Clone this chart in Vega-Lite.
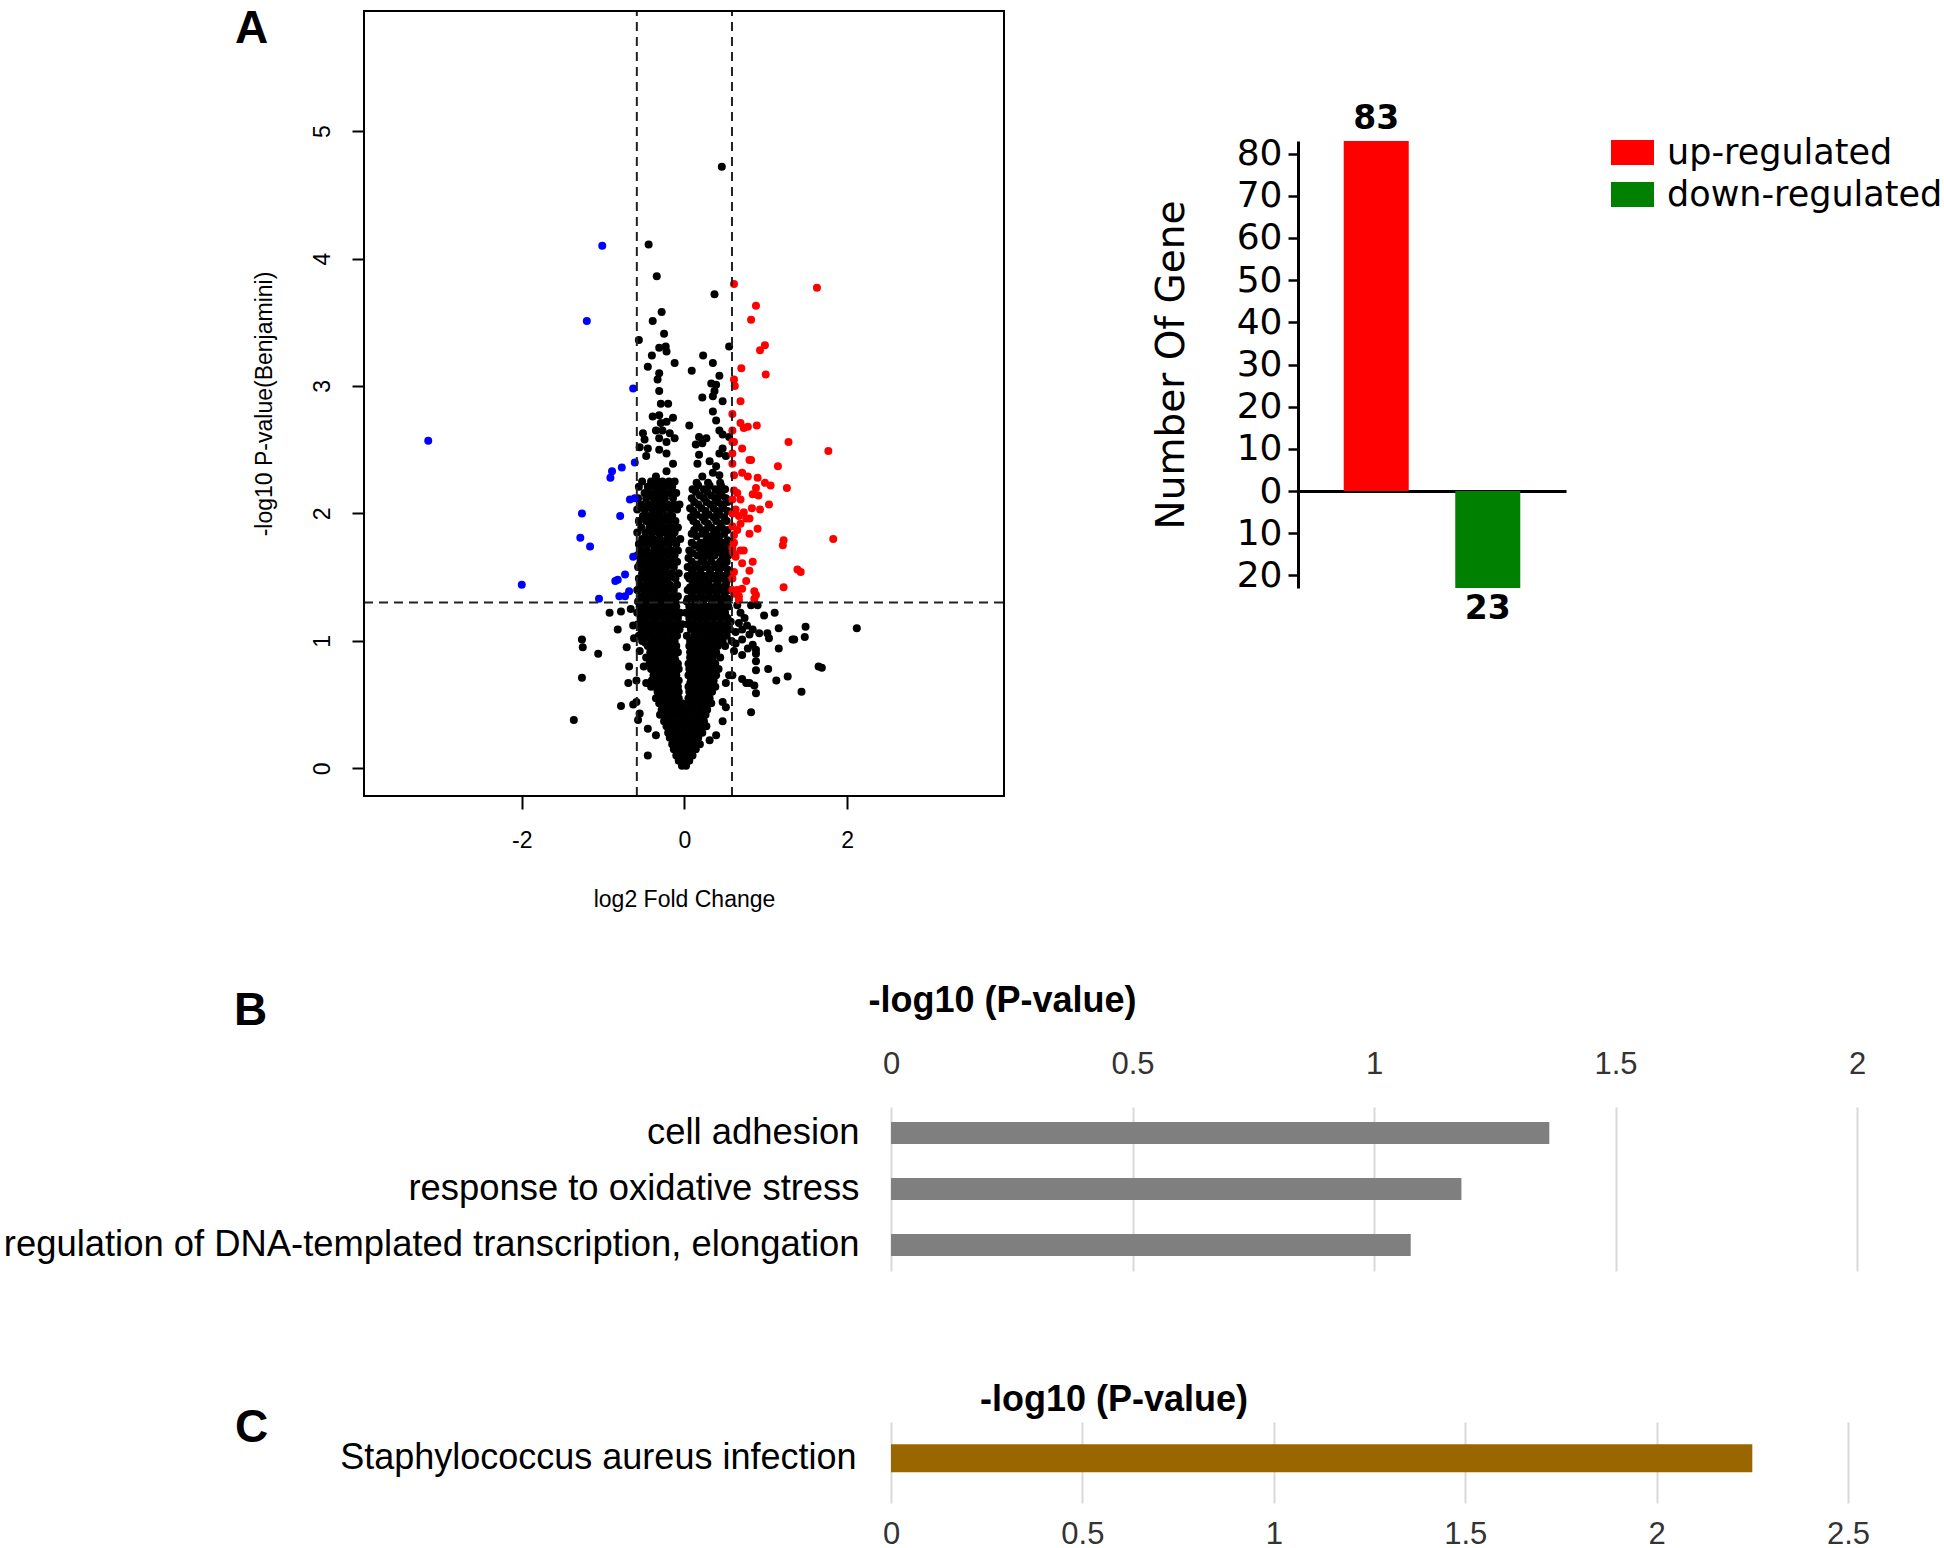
{
"$schema":"https://vega.github.io/schema/vega-lite/v6.json",
"background":"white",
"padding":{"left":3,"top":6,"right":0,"bottom":0},
"spacing":0,
"bounds":"flush",
"config":{"view":{"stroke":null},"font":"Liberation Sans","axis":{"labelFont":"Liberation Sans","titleFont":"Liberation Sans"}},
"datasets":{
"ns":[
{"fc":0.46,"lp":4.72},{"fc":-0.44,"lp":4.11},{"fc":-0.34,"lp":3.86},{"fc":0.37,"lp":3.72},{"fc":-0.28,"lp":3.58},{"fc":-0.39,"lp":3.51},{"fc":-0.25,"lp":3.41},{"fc":-0.56,"lp":3.36},{"fc":0.55,"lp":3.31},{"fc":-0.31,"lp":3.30},{"fc":-0.23,"lp":3.31},{"fc":-0.22,"lp":3.27},{"fc":-0.40,"lp":3.24},{"fc":0.23,"lp":3.24},{"fc":-0.12,"lp":3.18},{"fc":0.35,"lp":3.18},{"fc":-0.45,"lp":3.15},{"fc":-0.31,"lp":3.10},{"fc":0.09,"lp":3.12},{"fc":0.43,"lp":3.08},{"fc":-0.33,"lp":3.05},{"fc":0.33,"lp":3.02},{"fc":0.39,"lp":3.01},{"fc":-0.31,"lp":2.96},{"fc":0.37,"lp":2.96},{"fc":0.35,"lp":2.92},{"fc":0.47,"lp":2.88},{"fc":0.22,"lp":2.91},{"fc":-0.29,"lp":2.86},{"fc":-0.20,"lp":2.86},{"fc":0.35,"lp":2.80},{"fc":-0.39,"lp":2.76},{"fc":-0.31,"lp":2.77},{"fc":-0.14,"lp":2.75},{"fc":0.39,"lp":2.73},{"fc":-0.29,"lp":2.71},{"fc":-0.22,"lp":2.72},{"fc":0.06,"lp":2.69},{"fc":-0.35,"lp":2.65},{"fc":-0.27,"lp":2.65},{"fc":-0.18,"lp":2.63},{"fc":0.43,"lp":2.65},{"fc":0.47,"lp":2.62},{"fc":-0.51,"lp":2.63},{"fc":-0.49,"lp":2.58},{"fc":0.18,"lp":2.60},{"fc":0.27,"lp":2.59},{"fc":-0.31,"lp":2.59},{"fc":-0.22,"lp":2.56},{"fc":-0.12,"lp":2.59},{"fc":0.55,"lp":2.60},{"fc":-0.55,"lp":2.52},{"fc":-0.45,"lp":2.51},{"fc":0.14,"lp":2.54},{"fc":0.22,"lp":2.55},{"fc":-0.31,"lp":2.50},{"fc":-0.22,"lp":2.47},{"fc":0.47,"lp":2.51},{"fc":0.43,"lp":2.47},{"fc":0.51,"lp":2.45},{"fc":-0.47,"lp":2.45},{"fc":0.18,"lp":2.46},{"fc":0.16,"lp":2.39},{"fc":-0.14,"lp":2.39},{"fc":0.31,"lp":2.41},{"fc":0.39,"lp":2.37},{"fc":0.35,"lp":2.32},{"fc":0.43,"lp":2.30},{"fc":-0.35,"lp":2.29},{"fc":-0.22,"lp":2.33},{"fc":0.22,"lp":2.29},
{"fc":-0.52,"lp":2.25},{"fc":-0.41,"lp":2.25},{"fc":-0.33,"lp":2.25},{"fc":-0.27,"lp":2.25},{"fc":-0.19,"lp":2.25},{"fc":-0.12,"lp":2.25},
{"fc":-0.56,"lp":2.21},{"fc":-0.45,"lp":2.21},{"fc":-0.37,"lp":2.21},{"fc":-0.30,"lp":2.21},{"fc":-0.23,"lp":2.21},{"fc":-0.15,"lp":2.21},
{"fc":-0.49,"lp":2.16},{"fc":-0.42,"lp":2.16},{"fc":-0.34,"lp":2.16},{"fc":-0.26,"lp":2.16},{"fc":-0.18,"lp":2.16},{"fc":-0.10,"lp":2.16},
{"fc":-0.57,"lp":2.12},{"fc":-0.47,"lp":2.12},{"fc":-0.38,"lp":2.12},{"fc":-0.31,"lp":2.12},{"fc":-0.24,"lp":2.12},{"fc":-0.14,"lp":2.12},
{"fc":-0.53,"lp":2.07},{"fc":-0.44,"lp":2.07},{"fc":-0.36,"lp":2.07},{"fc":-0.29,"lp":2.07},{"fc":-0.21,"lp":2.07},{"fc":-0.13,"lp":2.07},{"fc":-0.06,"lp":2.07},
{"fc":-0.58,"lp":2.03},{"fc":-0.49,"lp":2.03},{"fc":-0.40,"lp":2.03},{"fc":-0.33,"lp":2.03},{"fc":-0.26,"lp":2.03},{"fc":-0.17,"lp":2.03},{"fc":-0.09,"lp":2.03},
{"fc":-0.51,"lp":1.98},{"fc":-0.45,"lp":1.98},{"fc":-0.37,"lp":1.98},{"fc":-0.30,"lp":1.98},{"fc":-0.22,"lp":1.98},{"fc":-0.15,"lp":1.98},
{"fc":-0.56,"lp":1.94},{"fc":-0.47,"lp":1.94},{"fc":-0.41,"lp":1.94},{"fc":-0.34,"lp":1.94},{"fc":-0.27,"lp":1.94},{"fc":-0.19,"lp":1.94},{"fc":-0.11,"lp":1.94},
{"fc":-0.53,"lp":1.89},{"fc":-0.43,"lp":1.89},{"fc":-0.36,"lp":1.89},{"fc":-0.29,"lp":1.89},{"fc":-0.23,"lp":1.89},{"fc":-0.16,"lp":1.89},{"fc":-0.08,"lp":1.89},
{"fc":-0.58,"lp":1.85},{"fc":-0.48,"lp":1.85},{"fc":-0.40,"lp":1.85},{"fc":-0.32,"lp":1.85},{"fc":-0.25,"lp":1.85},{"fc":-0.18,"lp":1.85},{"fc":-0.12,"lp":1.85},
{"fc":-0.52,"lp":1.80},{"fc":-0.45,"lp":1.80},{"fc":-0.38,"lp":1.80},{"fc":-0.30,"lp":1.80},{"fc":-0.21,"lp":1.80},{"fc":-0.14,"lp":1.80},{"fc":-0.05,"lp":1.80},
{"fc":-0.56,"lp":1.76},{"fc":-0.48,"lp":1.76},{"fc":-0.41,"lp":1.76},{"fc":-0.34,"lp":1.76},{"fc":-0.27,"lp":1.76},{"fc":-0.19,"lp":1.76},{"fc":-0.10,"lp":1.76},
{"fc":-0.53,"lp":1.71},{"fc":-0.46,"lp":1.71},{"fc":-0.37,"lp":1.71},{"fc":-0.31,"lp":1.71},{"fc":-0.24,"lp":1.71},{"fc":-0.16,"lp":1.71},{"fc":-0.08,"lp":1.71},
{"fc":-0.58,"lp":1.67},{"fc":-0.50,"lp":1.67},{"fc":-0.42,"lp":1.67},{"fc":-0.35,"lp":1.67},{"fc":-0.28,"lp":1.67},{"fc":-0.20,"lp":1.67},{"fc":-0.12,"lp":1.67},
{"fc":-0.54,"lp":1.62},{"fc":-0.46,"lp":1.62},{"fc":-0.39,"lp":1.62},{"fc":-0.32,"lp":1.62},{"fc":-0.25,"lp":1.62},{"fc":-0.17,"lp":1.62},{"fc":-0.09,"lp":1.62},
{"fc":-0.57,"lp":1.58},{"fc":-0.49,"lp":1.58},{"fc":-0.43,"lp":1.58},{"fc":-0.36,"lp":1.58},{"fc":-0.29,"lp":1.58},{"fc":-0.22,"lp":1.58},{"fc":-0.13,"lp":1.58},
{"fc":-0.52,"lp":1.53},{"fc":-0.45,"lp":1.53},{"fc":-0.38,"lp":1.53},{"fc":-0.31,"lp":1.53},{"fc":-0.24,"lp":1.53},{"fc":-0.16,"lp":1.53},{"fc":-0.07,"lp":1.53},
{"fc":-0.56,"lp":1.49},{"fc":-0.48,"lp":1.49},{"fc":-0.41,"lp":1.49},{"fc":-0.34,"lp":1.49},{"fc":-0.27,"lp":1.49},{"fc":-0.20,"lp":1.49},{"fc":-0.11,"lp":1.49},
{"fc":-0.54,"lp":1.44},{"fc":-0.46,"lp":1.44},{"fc":-0.39,"lp":1.44},{"fc":-0.32,"lp":1.44},{"fc":-0.25,"lp":1.44},{"fc":-0.18,"lp":1.44},{"fc":-0.09,"lp":1.44},
{"fc":-0.58,"lp":1.40},{"fc":-0.50,"lp":1.40},{"fc":-0.43,"lp":1.40},{"fc":-0.36,"lp":1.40},{"fc":-0.29,"lp":1.40},{"fc":-0.21,"lp":1.40},{"fc":-0.13,"lp":1.40},
{"fc":-0.53,"lp":1.35},{"fc":-0.46,"lp":1.35},{"fc":-0.38,"lp":1.35},{"fc":-0.31,"lp":1.35},{"fc":-0.24,"lp":1.35},{"fc":-0.16,"lp":1.35},{"fc":-0.08,"lp":1.35},
{"fc":-0.57,"lp":1.31},{"fc":-0.49,"lp":1.31},{"fc":-0.42,"lp":1.31},{"fc":-0.35,"lp":1.31},{"fc":-0.27,"lp":1.31},{"fc":-0.19,"lp":1.31},{"fc":-0.11,"lp":1.31},
{"fc":0.15,"lp":2.24},{"fc":0.29,"lp":2.24},{"fc":0.44,"lp":2.24},
{"fc":0.10,"lp":2.19},{"fc":0.24,"lp":2.19},{"fc":0.38,"lp":2.19},{"fc":0.50,"lp":2.19},
{"fc":0.19,"lp":2.14},{"fc":0.33,"lp":2.14},{"fc":0.46,"lp":2.14},
{"fc":0.12,"lp":2.09},{"fc":0.27,"lp":2.09},{"fc":0.41,"lp":2.09},{"fc":0.53,"lp":2.09},
{"fc":0.07,"lp":2.04},{"fc":0.21,"lp":2.04},{"fc":0.36,"lp":2.04},{"fc":0.48,"lp":2.04},
{"fc":0.15,"lp":1.99},{"fc":0.30,"lp":1.99},{"fc":0.43,"lp":1.99},
{"fc":0.11,"lp":1.94},{"fc":0.25,"lp":1.94},{"fc":0.39,"lp":1.94},{"fc":0.52,"lp":1.94},
{"fc":0.18,"lp":1.89},{"fc":0.33,"lp":1.89},{"fc":0.46,"lp":1.89},
{"fc":0.09,"lp":1.84},{"fc":0.22,"lp":1.84},{"fc":0.36,"lp":1.84},{"fc":0.49,"lp":1.84},
{"fc":0.27,"lp":1.79},{"fc":0.34,"lp":1.79},{"fc":0.41,"lp":1.79},{"fc":0.53,"lp":1.79},
{"fc":0.13,"lp":1.75},{"fc":0.24,"lp":1.75},{"fc":0.31,"lp":1.75},{"fc":0.38,"lp":1.75},{"fc":0.45,"lp":1.75},
{"fc":0.06,"lp":1.71},{"fc":0.27,"lp":1.71},{"fc":0.34,"lp":1.71},{"fc":0.41,"lp":1.71},{"fc":0.50,"lp":1.71},
{"fc":0.16,"lp":1.67},{"fc":0.29,"lp":1.67},{"fc":0.37,"lp":1.67},{"fc":0.54,"lp":1.67},
{"fc":0.09,"lp":1.62},{"fc":0.21,"lp":1.62},{"fc":0.33,"lp":1.62},{"fc":0.44,"lp":1.62},{"fc":0.52,"lp":1.62},
{"fc":0.04,"lp":1.58},{"fc":0.14,"lp":1.58},{"fc":0.26,"lp":1.58},{"fc":0.38,"lp":1.58},{"fc":0.48,"lp":1.58},
{"fc":0.10,"lp":1.53},{"fc":0.19,"lp":1.53},{"fc":0.31,"lp":1.53},{"fc":0.42,"lp":1.53},{"fc":0.54,"lp":1.53},
{"fc":0.06,"lp":1.49},{"fc":0.16,"lp":1.49},{"fc":0.24,"lp":1.49},{"fc":0.36,"lp":1.49},{"fc":0.47,"lp":1.49},
{"fc":0.12,"lp":1.44},{"fc":0.21,"lp":1.44},{"fc":0.29,"lp":1.44},{"fc":0.40,"lp":1.44},{"fc":0.51,"lp":1.44},
{"fc":0.04,"lp":1.40},{"fc":0.15,"lp":1.40},{"fc":0.26,"lp":1.40},{"fc":0.35,"lp":1.40},{"fc":0.45,"lp":1.40},{"fc":0.55,"lp":1.40},
{"fc":0.09,"lp":1.35},{"fc":0.19,"lp":1.35},{"fc":0.30,"lp":1.35},{"fc":0.39,"lp":1.35},{"fc":0.49,"lp":1.35},
{"fc":0.03,"lp":1.31},{"fc":0.13,"lp":1.31},{"fc":0.23,"lp":1.31},{"fc":0.34,"lp":1.31},{"fc":0.44,"lp":1.31},{"fc":0.53,"lp":1.31},
{"fc":0.17,"lp":2.22},{"fc":0.31,"lp":2.22},{"fc":0.45,"lp":2.22},
{"fc":0.14,"lp":2.17},{"fc":0.28,"lp":2.17},{"fc":0.42,"lp":2.17},
{"fc":0.09,"lp":2.12},{"fc":0.24,"lp":2.12},{"fc":0.38,"lp":2.12},{"fc":0.51,"lp":2.12},
{"fc":0.17,"lp":2.07},{"fc":0.32,"lp":2.07},{"fc":0.46,"lp":2.07},
{"fc":0.11,"lp":2.02},{"fc":0.26,"lp":2.02},{"fc":0.40,"lp":2.02},{"fc":0.53,"lp":2.02},
{"fc":0.08,"lp":1.97},{"fc":0.22,"lp":1.97},{"fc":0.36,"lp":1.97},{"fc":0.49,"lp":1.97},
{"fc":0.15,"lp":1.92},{"fc":0.29,"lp":1.92},{"fc":0.44,"lp":1.92},
{"fc":0.12,"lp":1.87},{"fc":0.26,"lp":1.87},{"fc":0.40,"lp":1.87},{"fc":0.53,"lp":1.87},
{"fc":0.15,"lp":1.82},{"fc":0.29,"lp":1.82},{"fc":0.43,"lp":1.82},
{"fc":0.09,"lp":1.77},{"fc":0.20,"lp":1.77},{"fc":0.47,"lp":1.77},
{"fc":0.18,"lp":1.73},{"fc":0.54,"lp":1.73},
{"fc":0.10,"lp":1.69},{"fc":0.21,"lp":1.69},{"fc":0.45,"lp":1.69},
{"fc":0.05,"lp":1.65},{"fc":0.24,"lp":1.65},{"fc":0.47,"lp":1.65},
{"fc":0.15,"lp":1.60},{"fc":0.27,"lp":1.60},{"fc":0.39,"lp":1.60},{"fc":0.49,"lp":1.60},
{"fc":0.09,"lp":1.56},{"fc":0.20,"lp":1.56},{"fc":0.32,"lp":1.56},{"fc":0.43,"lp":1.56},{"fc":0.53,"lp":1.56},
{"fc":0.04,"lp":1.51},{"fc":0.14,"lp":1.51},{"fc":0.25,"lp":1.51},{"fc":0.37,"lp":1.51},{"fc":0.48,"lp":1.51},
{"fc":0.10,"lp":1.47},{"fc":0.20,"lp":1.47},{"fc":0.30,"lp":1.47},{"fc":0.41,"lp":1.47},{"fc":0.52,"lp":1.47},
{"fc":0.07,"lp":1.42},{"fc":0.16,"lp":1.42},{"fc":0.25,"lp":1.42},{"fc":0.34,"lp":1.42},{"fc":0.46,"lp":1.42},
{"fc":0.10,"lp":1.38},{"fc":0.21,"lp":1.38},{"fc":0.30,"lp":1.38},{"fc":0.40,"lp":1.38},{"fc":0.50,"lp":1.38},
{"fc":0.04,"lp":1.33},{"fc":0.14,"lp":1.33},{"fc":0.25,"lp":1.33},{"fc":0.35,"lp":1.33},{"fc":0.44,"lp":1.33},{"fc":0.54,"lp":1.33},
{"fc":-0.55,"lp":1.27},{"fc":-0.47,"lp":1.27},{"fc":-0.40,"lp":1.27},{"fc":-0.33,"lp":1.27},{"fc":-0.25,"lp":1.27},{"fc":-0.18,"lp":1.27},{"fc":-0.10,"lp":1.27},{"fc":0.06,"lp":1.27},{"fc":0.14,"lp":1.27},{"fc":0.22,"lp":1.27},{"fc":0.30,"lp":1.27},{"fc":0.38,"lp":1.27},{"fc":0.46,"lp":1.27},{"fc":0.54,"lp":1.27},
{"fc":-0.58,"lp":1.22},{"fc":-0.51,"lp":1.22},{"fc":-0.43,"lp":1.22},{"fc":-0.36,"lp":1.22},{"fc":-0.29,"lp":1.22},{"fc":-0.21,"lp":1.22},{"fc":-0.13,"lp":1.22},{"fc":-0.05,"lp":1.22},{"fc":0.02,"lp":1.22},{"fc":0.10,"lp":1.22},{"fc":0.18,"lp":1.22},{"fc":0.26,"lp":1.22},{"fc":0.34,"lp":1.22},{"fc":0.42,"lp":1.22},{"fc":0.50,"lp":1.22},
{"fc":-0.54,"lp":1.18},{"fc":-0.47,"lp":1.18},{"fc":-0.39,"lp":1.18},{"fc":-0.32,"lp":1.18},{"fc":-0.24,"lp":1.18},{"fc":-0.16,"lp":1.18},{"fc":-0.08,"lp":1.18},{"fc":0.06,"lp":1.18},{"fc":0.14,"lp":1.18},{"fc":0.22,"lp":1.18},{"fc":0.29,"lp":1.18},{"fc":0.37,"lp":1.18},{"fc":0.45,"lp":1.18},{"fc":0.53,"lp":1.18},
{"fc":-0.57,"lp":1.13},{"fc":-0.50,"lp":1.13},{"fc":-0.42,"lp":1.13},{"fc":-0.35,"lp":1.13},{"fc":-0.27,"lp":1.13},{"fc":-0.19,"lp":1.13},{"fc":-0.11,"lp":1.13},{"fc":-0.03,"lp":1.13},{"fc":0.04,"lp":1.13},{"fc":0.11,"lp":1.13},{"fc":0.19,"lp":1.13},{"fc":0.27,"lp":1.13},{"fc":0.35,"lp":1.13},{"fc":0.43,"lp":1.13},{"fc":0.51,"lp":1.13},
{"fc":-0.53,"lp":1.09},{"fc":-0.45,"lp":1.09},{"fc":-0.38,"lp":1.09},{"fc":-0.30,"lp":1.09},{"fc":-0.22,"lp":1.09},{"fc":-0.14,"lp":1.09},{"fc":-0.06,"lp":1.09},{"fc":0.08,"lp":1.09},{"fc":0.16,"lp":1.09},{"fc":0.24,"lp":1.09},{"fc":0.32,"lp":1.09},{"fc":0.40,"lp":1.09},{"fc":0.48,"lp":1.09},{"fc":0.56,"lp":1.09},
{"fc":-0.56,"lp":1.04},{"fc":-0.48,"lp":1.04},{"fc":-0.41,"lp":1.04},{"fc":-0.33,"lp":1.04},{"fc":-0.25,"lp":1.04},{"fc":-0.17,"lp":1.04},{"fc":-0.09,"lp":1.04},{"fc":0.03,"lp":1.04},{"fc":0.12,"lp":1.04},{"fc":0.20,"lp":1.04},{"fc":0.28,"lp":1.04},{"fc":0.36,"lp":1.04},{"fc":0.44,"lp":1.04},{"fc":0.52,"lp":1.04},
{"fc":-0.52,"lp":1.00},{"fc":-0.44,"lp":1.00},{"fc":-0.36,"lp":1.00},{"fc":-0.28,"lp":1.00},{"fc":-0.20,"lp":1.00},{"fc":-0.12,"lp":1.00},{"fc":0.07,"lp":1.00},{"fc":0.15,"lp":1.00},{"fc":0.23,"lp":1.00},{"fc":0.31,"lp":1.00},{"fc":0.39,"lp":1.00},{"fc":0.47,"lp":1.00},
{"fc":-0.48,"lp":0.985},{"fc":-0.40,"lp":0.985},{"fc":-0.32,"lp":0.985},{"fc":-0.24,"lp":0.985},{"fc":-0.16,"lp":0.985},{"fc":0.10,"lp":0.985},{"fc":0.18,"lp":0.985},{"fc":0.26,"lp":0.985},{"fc":0.35,"lp":0.985},{"fc":0.43,"lp":0.985},
{"fc":-0.45,"lp":0.96},{"fc":-0.38,"lp":0.96},{"fc":-0.31,"lp":0.96},{"fc":-0.24,"lp":0.96},{"fc":-0.17,"lp":0.96},{"fc":-0.10,"lp":0.96},{"fc":0.06,"lp":0.96},{"fc":0.13,"lp":0.96},{"fc":0.20,"lp":0.96},{"fc":0.27,"lp":0.96},{"fc":0.34,"lp":0.96},{"fc":0.41,"lp":0.96},{"fc":0.50,"lp":0.96},
{"fc":-0.38,"lp":0.935},{"fc":-0.24,"lp":0.935},{"fc":-0.11,"lp":0.935},{"fc":0.09,"lp":0.935},{"fc":0.22,"lp":0.935},{"fc":0.36,"lp":0.935},
{"fc":-0.42,"lp":0.91},{"fc":-0.35,"lp":0.91},{"fc":-0.28,"lp":0.91},{"fc":-0.21,"lp":0.91},{"fc":-0.14,"lp":0.91},{"fc":-0.08,"lp":0.91},{"fc":0.07,"lp":0.91},{"fc":0.12,"lp":0.91},{"fc":0.18,"lp":0.91},{"fc":0.25,"lp":0.91},{"fc":0.32,"lp":0.91},{"fc":0.39,"lp":0.91},
{"fc":-0.47,"lp":0.87},{"fc":-0.40,"lp":0.87},{"fc":-0.33,"lp":0.87},{"fc":-0.26,"lp":0.87},{"fc":-0.19,"lp":0.87},{"fc":-0.12,"lp":0.87},{"fc":0.07,"lp":0.87},{"fc":0.14,"lp":0.87},{"fc":0.21,"lp":0.87},{"fc":0.28,"lp":0.87},{"fc":0.35,"lp":0.87},{"fc":0.44,"lp":0.87},
{"fc":-0.39,"lp":0.845},{"fc":-0.25,"lp":0.845},{"fc":-0.11,"lp":0.845},{"fc":0.08,"lp":0.845},{"fc":0.21,"lp":0.845},{"fc":0.34,"lp":0.845},
{"fc":-0.43,"lp":0.82},{"fc":-0.36,"lp":0.82},{"fc":-0.29,"lp":0.82},{"fc":-0.22,"lp":0.82},{"fc":-0.15,"lp":0.82},{"fc":-0.08,"lp":0.82},{"fc":0.05,"lp":0.82},{"fc":0.10,"lp":0.82},{"fc":0.17,"lp":0.82},{"fc":0.24,"lp":0.82},{"fc":0.31,"lp":0.82},{"fc":0.38,"lp":0.82},
{"fc":-0.41,"lp":0.78},{"fc":-0.34,"lp":0.78},{"fc":-0.27,"lp":0.78},{"fc":-0.20,"lp":0.78},{"fc":-0.13,"lp":0.78},{"fc":-0.07,"lp":0.78},{"fc":0.06,"lp":0.78},{"fc":0.13,"lp":0.78},{"fc":0.20,"lp":0.78},{"fc":0.27,"lp":0.78},{"fc":0.34,"lp":0.78},{"fc":0.42,"lp":0.78},
{"fc":-0.37,"lp":0.755},{"fc":-0.23,"lp":0.755},{"fc":-0.10,"lp":0.755},{"fc":0.09,"lp":0.755},{"fc":0.22,"lp":0.755},{"fc":0.36,"lp":0.755},
{"fc":-0.38,"lp":0.73},{"fc":-0.31,"lp":0.73},{"fc":-0.24,"lp":0.73},{"fc":-0.17,"lp":0.73},{"fc":-0.10,"lp":0.73},{"fc":0.05,"lp":0.73},{"fc":0.11,"lp":0.73},{"fc":0.18,"lp":0.73},{"fc":0.25,"lp":0.73},{"fc":0.32,"lp":0.73},{"fc":0.39,"lp":0.73},
{"fc":-0.40,"lp":0.69},{"fc":-0.33,"lp":0.69},{"fc":-0.26,"lp":0.69},{"fc":-0.19,"lp":0.69},{"fc":-0.12,"lp":0.69},{"fc":-0.07,"lp":0.69},{"fc":0.08,"lp":0.69},{"fc":0.15,"lp":0.69},{"fc":0.22,"lp":0.69},{"fc":0.29,"lp":0.69},{"fc":0.36,"lp":0.69},
{"fc":-0.32,"lp":0.665},{"fc":-0.18,"lp":0.665},{"fc":0.07,"lp":0.665},{"fc":0.20,"lp":0.665},{"fc":0.33,"lp":0.665},
{"fc":-0.36,"lp":0.64},{"fc":-0.29,"lp":0.64},{"fc":-0.22,"lp":0.64},{"fc":-0.15,"lp":0.64},{"fc":-0.08,"lp":0.64},{"fc":0.05,"lp":0.64},{"fc":0.10,"lp":0.64},{"fc":0.17,"lp":0.64},{"fc":0.24,"lp":0.64},{"fc":0.31,"lp":0.64},{"fc":0.38,"lp":0.64},
{"fc":-0.33,"lp":0.60},{"fc":-0.26,"lp":0.60},{"fc":-0.19,"lp":0.60},{"fc":-0.12,"lp":0.60},{"fc":-0.07,"lp":0.60},{"fc":0.06,"lp":0.60},{"fc":0.13,"lp":0.60},{"fc":0.20,"lp":0.60},{"fc":0.27,"lp":0.60},{"fc":0.34,"lp":0.60},
{"fc":-0.30,"lp":0.575},{"fc":-0.17,"lp":0.575},{"fc":0.08,"lp":0.575},{"fc":0.21,"lp":0.575},{"fc":0.28,"lp":0.575},
{"fc":-0.35,"lp":0.55},{"fc":-0.28,"lp":0.55},{"fc":-0.21,"lp":0.55},{"fc":-0.14,"lp":0.55},{"fc":-0.07,"lp":0.55},{"fc":0.05,"lp":0.55},{"fc":0.10,"lp":0.55},{"fc":0.17,"lp":0.55},{"fc":0.24,"lp":0.55},{"fc":0.31,"lp":0.55},
{"fc":-0.31,"lp":0.51},{"fc":-0.24,"lp":0.51},{"fc":-0.17,"lp":0.51},{"fc":-0.10,"lp":0.51},{"fc":-0.03,"lp":0.51},{"fc":0.05,"lp":0.51},{"fc":0.12,"lp":0.51},{"fc":0.19,"lp":0.51},{"fc":0.26,"lp":0.51},{"fc":0.33,"lp":0.51},
{"fc":-0.28,"lp":0.46},{"fc":-0.21,"lp":0.46},{"fc":-0.14,"lp":0.46},{"fc":-0.07,"lp":0.46},{"fc":0.00,"lp":0.46},{"fc":0.07,"lp":0.46},{"fc":0.14,"lp":0.46},{"fc":0.21,"lp":0.46},{"fc":0.28,"lp":0.46},
{"fc":-0.30,"lp":0.42},{"fc":-0.23,"lp":0.42},{"fc":-0.16,"lp":0.42},{"fc":-0.09,"lp":0.42},{"fc":-0.02,"lp":0.42},{"fc":0.05,"lp":0.42},{"fc":0.12,"lp":0.42},{"fc":0.19,"lp":0.42},{"fc":0.26,"lp":0.42},
{"fc":-0.25,"lp":0.37},{"fc":-0.18,"lp":0.37},{"fc":-0.11,"lp":0.37},{"fc":-0.04,"lp":0.37},{"fc":0.03,"lp":0.37},{"fc":0.10,"lp":0.37},{"fc":0.17,"lp":0.37},{"fc":0.24,"lp":0.37},
{"fc":-0.22,"lp":0.33},{"fc":-0.15,"lp":0.33},{"fc":-0.08,"lp":0.33},{"fc":-0.01,"lp":0.33},{"fc":0.06,"lp":0.33},{"fc":0.13,"lp":0.33},{"fc":0.20,"lp":0.33},{"fc":0.27,"lp":0.33},
{"fc":-0.20,"lp":0.28},{"fc":-0.13,"lp":0.28},{"fc":-0.06,"lp":0.28},{"fc":0.01,"lp":0.28},{"fc":0.08,"lp":0.28},{"fc":0.15,"lp":0.28},{"fc":0.22,"lp":0.28},
{"fc":-0.18,"lp":0.24},{"fc":-0.11,"lp":0.24},{"fc":-0.04,"lp":0.24},{"fc":0.03,"lp":0.24},{"fc":0.10,"lp":0.24},{"fc":0.17,"lp":0.24},
{"fc":-0.15,"lp":0.19},{"fc":-0.08,"lp":0.19},{"fc":-0.01,"lp":0.19},{"fc":0.06,"lp":0.19},{"fc":0.13,"lp":0.19},{"fc":0.19,"lp":0.19},
{"fc":-0.13,"lp":0.15},{"fc":-0.06,"lp":0.15},{"fc":0.01,"lp":0.15},{"fc":0.08,"lp":0.15},{"fc":0.14,"lp":0.15},
{"fc":-0.10,"lp":0.10},{"fc":-0.03,"lp":0.10},{"fc":0.04,"lp":0.10},{"fc":0.10,"lp":0.10},
{"fc":-0.07,"lp":0.06},{"fc":0.00,"lp":0.06},{"fc":0.06,"lp":0.06},
{"fc":-0.03,"lp":0.02},{"fc":0.02,"lp":0.02},
{"fc":-0.92,"lp":1.22},{"fc":-0.78,"lp":1.23},{"fc":-0.82,"lp":1.09},{"fc":-1.26,"lp":1.01},{"fc":-1.25,"lp":0.95},{"fc":-1.06,"lp":0.90},{"fc":-1.26,"lp":0.71},{"fc":-1.36,"lp":0.38},{"fc":-0.71,"lp":0.95},{"fc":-0.78,"lp":0.49},{"fc":-0.69,"lp":0.67},{"fc":-0.59,"lp":0.69},{"fc":-0.63,"lp":0.50},{"fc":-0.59,"lp":0.52},{"fc":-0.55,"lp":0.43},{"fc":-0.57,"lp":0.38},{"fc":-0.45,"lp":0.31},{"fc":-0.45,"lp":0.10},{"fc":-0.55,"lp":0.92},{"fc":-0.47,"lp":0.67},{"fc":-0.41,"lp":0.64},{"fc":-0.35,"lp":0.26},{"fc":-0.66,"lp":1.25},{"fc":-0.63,"lp":1.12},{"fc":-0.68,"lp":0.80},{"fc":-0.62,"lp":1.02},{"fc":-0.50,"lp":0.80},{"fc":-0.52,"lp":1.05},
{"fc":0.98,"lp":1.20},{"fc":1.11,"lp":1.22},{"fc":1.16,"lp":1.10},{"fc":1.49,"lp":1.11},{"fc":1.48,"lp":1.03},{"fc":1.35,"lp":1.01},{"fc":2.12,"lp":1.10},{"fc":1.16,"lp":0.94},{"fc":1.69,"lp":0.79},{"fc":1.03,"lp":0.78},{"fc":1.27,"lp":0.72},{"fc":1.13,"lp":0.69},{"fc":1.44,"lp":0.60},{"fc":0.82,"lp":0.44},{"fc":0.88,"lp":0.59},{"fc":0.86,"lp":0.65},{"fc":0.76,"lp":0.67},{"fc":0.71,"lp":0.70},{"fc":0.59,"lp":0.73},{"fc":0.88,"lp":0.77},{"fc":0.88,"lp":0.84},{"fc":0.88,"lp":0.90},{"fc":0.88,"lp":0.93},{"fc":0.61,"lp":0.92},{"fc":0.71,"lp":0.89},{"fc":0.78,"lp":0.94},{"fc":0.63,"lp":0.98},{"fc":0.71,"lp":1.01},{"fc":0.80,"lp":1.05},{"fc":0.84,"lp":1.09},{"fc":0.92,"lp":1.06},{"fc":1.02,"lp":1.06},{"fc":1.04,"lp":1.02},{"fc":0.63,"lp":1.07},{"fc":0.71,"lp":1.09},{"fc":0.67,"lp":1.14},{"fc":0.69,"lp":1.22},{"fc":0.82,"lp":1.28},{"fc":0.90,"lp":1.28},{"fc":0.65,"lp":1.28},{"fc":1.65,"lp":0.80},{"fc":1.33,"lp":1.01},{"fc":0.47,"lp":0.37},{"fc":0.39,"lp":0.26},{"fc":0.31,"lp":0.22},{"fc":0.51,"lp":0.48},{"fc":0.47,"lp":0.52},{"fc":0.55,"lp":0.73},{"fc":0.51,"lp":0.67},{"fc":0.80,"lp":0.67},{"fc":0.84,"lp":0.97},{"fc":0.74,"lp":1.18},{"fc":0.77,"lp":1.12},{"fc":0.58,"lp":1.00},{"fc":0.57,"lp":1.15}
],
"down":[
{"fc":-1.01,"lp":4.10},{"fc":-1.20,"lp":3.51},{"fc":-0.63,"lp":2.98},{"fc":-3.15,"lp":2.57},{"fc":-0.61,"lp":2.40},{"fc":-0.77,"lp":2.36},{"fc":-0.89,"lp":2.33},{"fc":-0.91,"lp":2.28},{"fc":-0.67,"lp":2.11},{"fc":-0.61,"lp":2.12},{"fc":-1.26,"lp":2.00},{"fc":-0.79,"lp":1.98},{"fc":-1.28,"lp":1.81},{"fc":-1.16,"lp":1.74},{"fc":-0.63,"lp":1.66},{"fc":-2.00,"lp":1.44},{"fc":-0.73,"lp":1.52},{"fc":-0.85,"lp":1.47},{"fc":-0.82,"lp":1.48},{"fc":-1.05,"lp":1.33},{"fc":-0.80,"lp":1.35},{"fc":-0.68,"lp":1.39},{"fc":-0.73,"lp":1.35}
],
"up":[
{"fc":0.61,"lp":3.80},{"fc":1.63,"lp":3.77},{"fc":0.88,"lp":3.63},{"fc":0.82,"lp":3.52},{"fc":0.99,"lp":3.32},{"fc":0.93,"lp":3.28},{"fc":0.70,"lp":3.14},{"fc":1.00,"lp":3.09},{"fc":0.61,"lp":3.05},{"fc":0.62,"lp":3.00},{"fc":0.69,"lp":2.88},{"fc":0.59,"lp":2.78},{"fc":0.69,"lp":2.71},{"fc":0.78,"lp":2.68},{"fc":0.89,"lp":2.69},{"fc":1.28,"lp":2.56},{"fc":1.77,"lp":2.49},{"fc":0.61,"lp":2.56},{"fc":0.71,"lp":2.51},{"fc":0.80,"lp":2.42},{"fc":0.82,"lp":2.42},{"fc":1.15,"lp":2.37},{"fc":0.59,"lp":2.39},{"fc":0.61,"lp":2.30},{"fc":0.71,"lp":2.32},{"fc":0.78,"lp":2.29},{"fc":0.90,"lp":2.28},{"fc":0.99,"lp":2.24},{"fc":1.06,"lp":2.22},{"fc":1.26,"lp":2.20},{"fc":0.88,"lp":2.20},{"fc":0.61,"lp":2.18},{"fc":0.65,"lp":2.16},{"fc":0.69,"lp":2.11},{"fc":0.84,"lp":2.15},{"fc":0.91,"lp":2.14},{"fc":0.63,"lp":2.03},{"fc":0.83,"lp":2.04},{"fc":0.93,"lp":2.03},{"fc":1.04,"lp":2.07},{"fc":0.76,"lp":1.96},{"fc":0.69,"lp":1.92},{"fc":0.80,"lp":1.96},{"fc":0.65,"lp":1.87},{"fc":0.90,"lp":1.88},{"fc":0.80,"lp":1.84},{"fc":0.61,"lp":1.83},{"fc":1.22,"lp":1.79},{"fc":1.21,"lp":1.75},{"fc":1.83,"lp":1.80},{"fc":0.59,"lp":1.73},{"fc":0.69,"lp":1.71},{"fc":0.63,"lp":1.66},{"fc":0.71,"lp":1.61},{"fc":0.84,"lp":1.62},{"fc":1.39,"lp":1.56},{"fc":1.43,"lp":1.54},{"fc":0.61,"lp":1.54},{"fc":0.80,"lp":1.55},{"fc":0.76,"lp":1.47},{"fc":0.71,"lp":1.41},{"fc":1.22,"lp":1.42},{"fc":0.61,"lp":1.37},{"fc":0.86,"lp":1.39},{"fc":0.88,"lp":1.36},{"fc":0.67,"lp":1.35},{"fc":0.59,"lp":1.49},{"fc":0.59,"lp":1.40},{"fc":0.65,"lp":1.40},{"fc":0.59,"lp":2.65},{"fc":0.73,"lp":2.67},{"fc":0.59,"lp":2.56},{"fc":0.59,"lp":2.47},{"fc":0.67,"lp":1.32},{"fc":0.86,"lp":1.33},{"fc":0.59,"lp":2.11},{"fc":0.59,"lp":2.00},{"fc":0.59,"lp":1.90},{"fc":0.61,"lp":1.77},{"fc":0.60,"lp":1.69},{"fc":0.73,"lp":1.71},{"fc":0.67,"lp":1.98},{"fc":0.73,"lp":2.01}
],
"fcthr":[{"fc":-0.585,"lp":-0.217,"lp2":5.942},{"fc":0.585,"lp":-0.217,"lp2":5.942}],
"pthr":[{"lp":1.301,"fc":-3.94,"fc2":3.93}],
"frame":[{"fc":-3.94,"fc2":3.93,"lp":-0.217,"lp2":5.942}],
"counts":[{"dir":"up-regulated","n":83,"lab":"83"},{"dir":"down-regulated","n":-23,"lab":"23"}],
"go":[{"term":"cell adhesion","v":1.363},{"term":"response to oxidative stress","v":1.181},{"term":"regulation of DNA-templated transcription, elongation","v":1.076}],
"kegg":[{"term":"Staphylococcus aureus infection","v":2.25}],
"blank":[{"k":0}]
},
"vconcat":[
{"width":1202,"height":785,
 "title":{"text":"A","anchor":"start","frame":"group","orient":"top","dx":-129,"offset":-79,"baseline":"alphabetic","font":"Liberation Sans","fontSize":46,"fontWeight":"bold","color":"black"},
 "layer":[
  {"layer":[
    {"data":{"name":"ns"},"mark":{"type":"circle","size":64,"opacity":1,"color":"black"},
     "encoding":{
      "x":{"field":"fc","type":"quantitative","scale":{"domain":[-3.94,3.93],"nice":false,"zero":false,"range":[0,640]},
        "axis":{"orient":"bottom","values":[-2,0,2],"labelExpr":"datum.value < 0 ? '-' + abs(datum.value) : '' + datum.value","title":"log2 Fold Change","domain":false,"grid":false,"tickSize":13,"tickWidth":2,"tickColor":"black","labelFontSize":23,"labelColor":"black","labelPadding":20,"labelFlush":false,"titleFontSize":23,"titleFontWeight":"normal","titleColor":"black","titlePadding":36}},
      "y":{"field":"lp","type":"quantitative","scale":{"domain":[-0.217,5.942],"nice":false,"zero":false,"range":[785,0]},
        "axis":{"orient":"left","values":[0,1,2,3,4,5],"labelExpr":"'' + datum.value","title":"-log10 P-value(Benjamini)","domain":false,"grid":false,"tickSize":12,"tickWidth":2,"tickColor":"black","labelFontSize":23,"labelColor":"black","labelPadding":18,"labelAngle":-90,"labelAlign":"center","labelBaseline":"bottom","labelFlush":false,"titleFontSize":23,"titleFontWeight":"normal","titleColor":"black","titlePadding":35}}
     }},
    {"data":{"name":"down"},"mark":{"type":"circle","size":64,"opacity":1,"color":"#0000ff"},
     "encoding":{"x":{"field":"fc","type":"quantitative"},"y":{"field":"lp","type":"quantitative"}}},
    {"data":{"name":"up"},"mark":{"type":"circle","size":64,"opacity":1,"color":"#ff0000"},
     "encoding":{"x":{"field":"fc","type":"quantitative"},"y":{"field":"lp","type":"quantitative"}}},
    {"data":{"name":"fcthr"},"mark":{"type":"rule","color":"#222222","strokeWidth":2,"strokeDash":[9,6]},
     "encoding":{"x":{"field":"fc","type":"quantitative"},"y":{"field":"lp","type":"quantitative"},"y2":{"field":"lp2"}}},
    {"data":{"name":"pthr"},"mark":{"type":"rule","color":"#222222","strokeWidth":2,"strokeDash":[9,6]},
     "encoding":{"y":{"field":"lp","type":"quantitative"},"x":{"field":"fc","type":"quantitative"},"x2":{"field":"fc2"}}},
    {"data":{"name":"frame"},"mark":{"type":"rect","fill":null,"fillOpacity":0,"stroke":"black","strokeWidth":2},
     "encoding":{"x":{"field":"fc","type":"quantitative"},"x2":{"field":"fc2"},"y":{"field":"lp","type":"quantitative"},"y2":{"field":"lp2"}}}
  ]},
  {"data":{"name":"counts"},
   "layer":[
    {"mark":{"type":"bar"},
     "encoding":{
      "x":{"field":"dir","type":"nominal","sort":null,"scale":{"paddingInner":0.417,"paddingOuter":0.41,"range":[934,1202]},
        "axis":{"orient":"bottom","offset":-305,"labels":false,"ticks":false,"title":null,"domain":true,"domainColor":"black","domainWidth":3,"grid":false}},
      "y":{"field":"n","type":"quantitative","scale":{"domain":[-23,83],"nice":false,"zero":false,"range":[577,130]},
        "axis":{"orient":"left","offset":-934,"values":[-20,-10,0,10,20,30,40,50,60,70,80],"labelExpr":"'' + abs(datum.value)","title":"Number Of Gene","grid":false,"domainWidth":3,"domainColor":"black","tickColor":"black","tickWidth":2.5,"tickSize":10,"labelPadding":6,"labelFont":"DejaVu Sans","labelFontSize":36,"labelColor":"black","labelFlush":false,"labelOverlap":false,"titleFont":"DejaVu Sans","titleFontSize":39,"titleFontWeight":"normal","titleColor":"black","titlePadding":45}},
      "color":{"field":"dir","type":"nominal","sort":null,"scale":{"domain":["up-regulated","down-regulated"],"range":["#ff0000","#008000"]},
        "legend":{"orient":"none","legendX":1247,"legendY":120,"title":null,"symbolType":"M-1,-0.58H1V0.58H-1Z","symbolSize":1849,"symbolStrokeWidth":0,"symbolOpacity":1,"labelFont":"DejaVu Sans","labelFontSize":35,"labelColor":"black","labelOffset":13,"rowPadding":2,"padding":0,"labelLimit":500}}
     }},
    {"transform":[{"filter":"datum.n > 0"}],
     "mark":{"type":"text","baseline":"bottom","dy":-5,"font":"DejaVu Sans","fontWeight":"bold","fontSize":33,"color":"black"},
     "encoding":{"x":{"field":"dir","type":"nominal","sort":null},"y":{"field":"n","type":"quantitative"},"text":{"field":"lab"}}},
    {"transform":[{"filter":"datum.n < 0"}],
     "mark":{"type":"text","baseline":"top","dy":5,"font":"DejaVu Sans","fontWeight":"bold","fontSize":33,"color":"black"},
     "encoding":{"x":{"field":"dir","type":"nominal","sort":null},"y":{"field":"n","type":"quantitative"},"text":{"field":"lab"}}}
   ]}
 ],
 "resolve":{"scale":{"x":"independent","y":"independent"},"axis":{"x":"independent","y":"independent"}}
},
{"width":1,"height":311,"data":{"name":"blank"},"mark":{"type":"point","opacity":0,"size":1},"encoding":{},
 "title":{"text":"B","anchor":"start","frame":"group","orient":"top","dx":-130,"offset":-275,"baseline":"alphabetic","font":"Liberation Sans","fontSize":46,"fontWeight":"bold","color":"black"}},
{"width":1493,"height":164,
 "data":{"name":"go"},
 "mark":{"type":"bar","color":"#7f7f7f"},
 "encoding":{
  "y":{"field":"term","type":"nominal","sort":null,"scale":{"paddingInner":0.607,"paddingOuter":0.268},
    "axis":{"orient":"left","offset":-527,"title":null,"domain":false,"ticks":false,"labelFont":"Liberation Sans","labelFontSize":36.4,"labelColor":"black","labelPadding":32,"labelLimit":1000}},
  "x":{"field":"v","type":"quantitative","scale":{"domain":[0,2],"nice":false,"range":[527,1493]},
    "axis":{"orient":"top","values":[0,0.5,1,1.5,2],"format":"~g","domain":false,"ticks":false,"grid":true,"gridColor":"#d9d9d9","gridWidth":2,"labelFontSize":31,"labelColor":"#333333","labelPadding":27,"labelFlush":false,"labelOverlap":false,
      "title":"-log10 (P-value)","titleFontSize":36,"titleFontWeight":"bold","titleColor":"black","titleAlign":"left","titleX":504,"titleY":-96,"titleBaseline":"alphabetic"}}
 }},
{"width":1,"height":151,"data":{"name":"blank"},"mark":{"type":"point","opacity":0,"size":1},"encoding":{},
 "title":{"text":"C","anchor":"start","frame":"group","orient":"top","dx":-129,"offset":-217,"baseline":"alphabetic","font":"Liberation Sans","fontSize":46,"fontWeight":"bold","color":"black"}},
{"width":1484,"height":81,
 "data":{"name":"kegg"},
 "title":{"text":"-log10 (P-value)","anchor":"start","frame":"group","orient":"top","dx":616,"offset":-25,"baseline":"alphabetic","font":"Liberation Sans","fontSize":36,"fontWeight":"bold","color":"black"},
 "mark":{"type":"bar","color":"#996600"},
 "encoding":{
  "y":{"field":"term","type":"nominal","scale":{"paddingInner":0,"paddingOuter":0.946,"align":0.42},
    "axis":{"orient":"left","offset":-527,"title":null,"domain":false,"ticks":false,"labelFont":"Liberation Sans","labelFontSize":36,"labelColor":"black","labelPadding":35,"labelLimit":1000}},
  "x":{"field":"v","type":"quantitative","scale":{"domain":[0,2.5],"nice":false,"range":[527,1484]},
    "axis":{"values":[0,0.5,1,1.5,2,2.5],"format":"~g","domain":false,"ticks":false,"grid":true,"gridColor":"#d9d9d9","gridWidth":2,"labelFontSize":31,"labelColor":"#333333","labelPadding":16,"labelFlush":false,"labelOverlap":false,"title":null}}
 }}
]
}
